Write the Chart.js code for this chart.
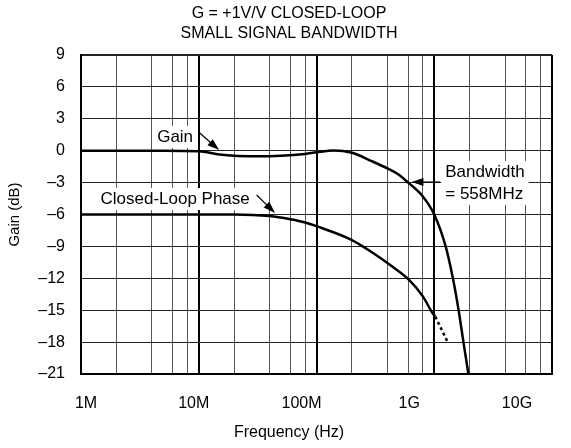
<!DOCTYPE html>
<html>
<head>
<meta charset="utf-8">
<script src="https://cdn.jsdelivr.net/npm/chart.js@4/dist/chart.umd.min.js"></script>
<style>
  html, body { margin: 0; padding: 0; background: #fff; }
  canvas { display: block; }
</style>
</head>
<body>
<canvas id="bw" width="571" height="448"></canvas>
<script>
'use strict';

Chart.defaults.font.family = "'Liberation Sans', Arial, sans-serif";
Chart.defaults.font.size   = 16;
Chart.defaults.color       = '#000';

// ─── Data ────────────────────────────────────────────────────────────────────

const gainFreq = [1e6, 5e6, 10e6, 15e6, 20e6, 30e6, 50e6, 80e6, 100e6, 140e6, 200e6,
                  290e6, 400e6, 490e6, 600e6, 800e6, 1e9, 1.25e9, 1.44e9, 1.61e9, 1.77e9, 1.95e9];
const gainDb   = [0, 0, -0.05, -0.35, -0.48, -0.52, -0.47, -0.3, -0.15, 0.02, -0.2,
                  -0.95, -1.66, -2.2, -3, -4.3, -6, -9, -12, -15, -18, -21];

const phaseFreq = [1e6, 20e6, 40e6, 60e6, 80e6, 100e6, 200e6, 300e6, 440e6, 617e6, 800e6, 970e6, 1.02e9];
const phaseDb   = [-6, -6, -6.15, -6.45, -6.75, -7.1, -8.4, -9.6, -10.9, -12.2, -13.7, -15.3, -15.6];

const phaseExtFreq = [1.02e9, 1.3e9];
const phaseExtDb   = [-15.6, -18];

const xLabels   = ['1M', '10M', '100M', '1G', '10G'];
const gridFreqs = [1e6, 2e6, 4e6, 6e6, 8e6, 1e7, 2e7, 4e7, 6e7, 8e7, 1e8, 2e8, 4e8, 6e8, 8e8,
                   1e9, 2e9, 4e9, 6e9, 8e9, 1e10];

// annotations: text, anchor (freq, dB), arrow tail, arrow tip
const noteText  = [['Gain'], ['Closed-Loop Phase'], ['Bandwidth', '= 558MHz']];
const noteAlign = ['center', 'center', 'left'];
const noteAt    = [[6.3e6, 1.3], [6.3e6, -4.55], [1.24e9, -2.0]];
const arrowFrom = [[10.2e6, 1.66], [31e6, -4.17], [1.12e9, -2.95]];
const arrowTo   = [[14.9e6, 0.06], [44.5e6, -5.86], [6.4e8, -2.95]];

const pts = (xs, ys) => xs.map((x, i) => ({ x, y: ys[i] }));
const isDecade = v => Math.abs(Math.log10(v) - Math.round(Math.log10(v))) < 1e-6;
const dash = v => (v < 0 ? '\u2013' + Math.abs(v) : String(v));

// ─── Annotation plugin ───────────────────────────────────────────────────────

function drawArrow(ctx, x1, y1, x2, y2) {
  const a = Math.atan2(y2 - y1, x2 - x1);
  const len = 12, half = 4;
  ctx.beginPath();
  ctx.moveTo(x1, y1);
  ctx.lineTo(x2 - Math.cos(a) * len * 0.8, y2 - Math.sin(a) * len * 0.8);
  ctx.stroke();
  ctx.beginPath();
  ctx.moveTo(x2, y2);
  ctx.lineTo(x2 - Math.cos(a) * len - Math.sin(a) * half, y2 - Math.sin(a) * len + Math.cos(a) * half);
  ctx.lineTo(x2 - Math.cos(a) * len + Math.sin(a) * half, y2 - Math.sin(a) * len - Math.cos(a) * half);
  ctx.closePath();
  ctx.fill();
}

const annotate = {
  id: 'annotate',
  afterDatasetsDraw(chart) {
    const { ctx } = chart;
    const x = chart.scales.x, y = chart.scales.y;
    const lh = 22;
    ctx.save();
    ctx.font = "17px 'Liberation Sans', Arial, sans-serif";
    ctx.textBaseline = 'middle';
    ctx.textAlign = 'left';
    noteText.forEach((lines, i) => {
      const px = x.getPixelForValue(noteAt[i][0]);
      const py = y.getPixelForValue(noteAt[i][1]);
      const w = Math.max(...lines.map(l => ctx.measureText(l).width));
      const left = noteAlign[i] === 'left' ? px : px - w / 2;
      ctx.fillStyle = '#fff';
      ctx.fillRect(left - 4, py - lh / 2, w + 8, lines.length * lh);
      ctx.fillStyle = '#000';
      lines.forEach((l, k) => ctx.fillText(l, left, py + k * lh));
      ctx.strokeStyle = '#000';
      ctx.lineWidth = 1.2;
      drawArrow(ctx,
        x.getPixelForValue(arrowFrom[i][0]), y.getPixelForValue(arrowFrom[i][1]),
        x.getPixelForValue(arrowTo[i][0]),   y.getPixelForValue(arrowTo[i][1]));
    });
    ctx.restore();
  },
};

// ─── Chart ───────────────────────────────────────────────────────────────────

const lineStyle = {
  borderColor: '#000',
  borderWidth: 2.5,
  pointRadius: 0,
  fill: false,
  cubicInterpolationMode: 'monotone',
};

new Chart(document.getElementById('bw').getContext('2d'), {
  type: 'line',
  data: {
    datasets: [
      { label: 'Gain', data: pts(gainFreq, gainDb), ...lineStyle },
      { label: 'Closed-Loop Phase', data: pts(phaseFreq, phaseDb), ...lineStyle },
      { label: 'Phase (extended)', data: pts(phaseExtFreq, phaseExtDb), ...lineStyle, borderDash: [3, 3] },
    ],
  },
  options: {
    responsive: false,
    animation: false,
    layout: { padding: { left: 7, right: 0, top: 0, bottom: 0 } },
    plugins: {
      legend: { display: false },
      tooltip: { enabled: false },
      title: {
        display: true,
        text: ['G = +1V/V CLOSED-LOOP', 'SMALL SIGNAL BANDWIDTH'],
        color: '#000',
        font: { size: 16, weight: 'normal', lineHeight: 1.25 },
        padding: { top: 4, bottom: 11 },
      },
      subtitle: {
        display: true,
        position: 'bottom',
        text: 'Frequency (Hz)',
        color: '#000',
        font: { size: 16, lineHeight: 1.2 },
        padding: { top: 4, bottom: 6 },
      },
    },
    scales: {
      x: {
        type: 'logarithmic',
        position: 'bottom',
        min: 1e6,
        max: 1e10,
        ticks: { display: false },
        grid: {
          drawTicks: false,
          color: c => (isDecade(c.tick.value) ? '#000' : '#555'),
          lineWidth: c => (isDecade(c.tick.value) ? 2 : 1),
        },
        border: { display: true, color: '#000', width: 2 },
        afterBuildTicks: s => { s.ticks = gridFreqs.map(v => ({ value: v })); },
        afterFit: s => { s.height = 0; },
      },
      xl: {
        type: 'linear',
        position: 'bottom',
        min: -0.0464,
        max: 4.325,
        grid: { display: false },
        border: { display: false },
        ticks: {
          padding: 12,
          autoSkip: false,
          maxRotation: 0,
          font: { size: 16 },
          callback: v => xLabels[v],
        },
        afterBuildTicks: s => { s.ticks = xLabels.map((_, i) => ({ value: i })); },
        afterFit: s => { s.height = 44.8; },
      },
      y: {
        min: -21,
        max: 9,
        ticks: { stepSize: 3, padding: 16, font: { size: 16 }, callback: dash },
        grid: {
          drawTicks: false,
          color: '#222',
          lineWidth: c => (c.tick.value === 9 ? 2 : 1),
        },
        border: { display: true, color: '#000', width: 2 },
        title: { display: true, text: 'Gain (dB)', font: { size: 15, lineHeight: 1 }, padding: 0 },
        afterFit: s => { s.width = 74; },
      },
      yr: {
        position: 'right',
        grid: { display: false },
        ticks: { display: false },
        border: { display: false },
        afterFit: s => { s.width = 19; },
      },
    },
  },
  plugins: [annotate],
});
</script>
</body>
</html>
